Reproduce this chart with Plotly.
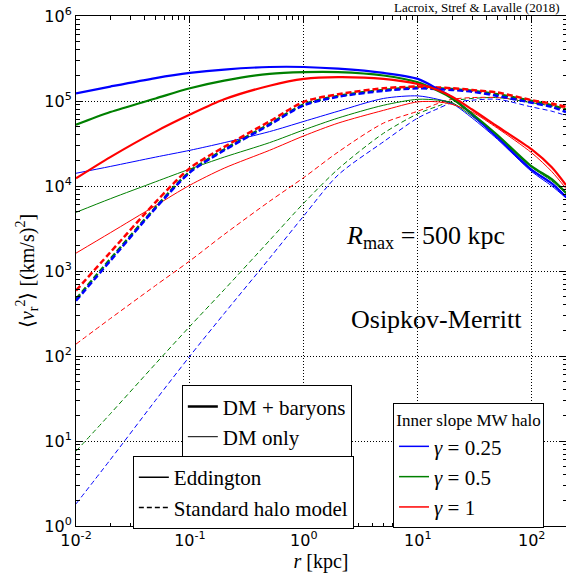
import numpy as np
import plotly.graph_objects as go

# radius grid (kpc)
r_kpc = [0.01, 0.02, 0.05, 0.1, 0.2, 0.5, 1, 2, 5, 10, 15, 20, 30, 50, 100, 150, 200]

# log10 <v_r^2>
# Eddington, DM + baryons (thick solid)
edd_bar_g025 = [5.09, 5.17, 5.27, 5.33, 5.37, 5.40, 5.40, 5.38, 5.33, 5.26, 5.14, 5.04, 4.84, 4.57, 4.19, 4.03, 3.87]
edd_bar_g05 = [4.72, 4.87, 5.03, 5.15, 5.24, 5.32, 5.34, 5.34, 5.30, 5.22, 5.12, 5.03, 4.85, 4.60, 4.23, 4.08, 3.92]
edd_bar_g1 = [4.09, 4.34, 4.64, 4.84, 5.02, 5.18, 5.26, 5.28, 5.26, 5.20, 5.13, 5.05, 4.90, 4.70, 4.43, 4.22, 4.01]
# Eddington, DM only (thin solid)
edd_dm_g025 = [4.15, 4.23, 4.34, 4.42, 4.51, 4.64, 4.76, 4.88, 5.03, 5.06, 5.02, 4.97, 4.80, 4.55, 4.17, 4.00, 3.86]
edd_dm_g05 = [3.69, 3.85, 4.05, 4.20, 4.34, 4.51, 4.66, 4.80, 4.95, 5.02, 5.01, 4.98, 4.82, 4.58, 4.22, 4.06, 3.91]
edd_dm_g1 = [3.21, 3.45, 3.77, 4.01, 4.21, 4.42, 4.59, 4.74, 4.89, 4.99, 4.99, 4.96, 4.87, 4.68, 4.39, 4.17, 3.97]
# Standard halo model, DM + baryons (thick dashed)
shm_bar_g025 = [2.65, 3.12, 3.74, 4.16, 4.42, 4.72, 4.95, 5.05, 5.12, 5.15, 5.14, 5.13, 5.11, 5.06, 4.98, 4.93, 4.87]
shm_bar_g05 = [2.67, 3.14, 3.75, 4.17, 4.43, 4.73, 4.96, 5.06, 5.13, 5.16, 5.15, 5.14, 5.12, 5.08, 5.00, 4.95, 4.90]
shm_bar_g1 = [2.77, 3.22, 3.81, 4.21, 4.46, 4.76, 4.99, 5.08, 5.15, 5.17, 5.16, 5.15, 5.13, 5.10, 5.01, 4.97, 4.93]
# Standard halo model, DM only (thin dashed)
shm_dm_g025 = [0.26, 0.78, 1.48, 2.00, 2.50, 3.15, 3.65, 4.13, 4.52, 4.80, 4.91, 4.98, 5.01, 5.02, 4.93, 4.88, 4.83]
shm_dm_g05 = [0.88, 1.32, 1.91, 2.35, 2.78, 3.36, 3.80, 4.20, 4.62, 4.85, 4.94, 5.00, 5.03, 5.04, 4.98, 4.94, 4.90]
shm_dm_g1 = [2.14, 2.44, 2.83, 3.12, 3.43, 3.82, 4.10, 4.40, 4.74, 4.88, 4.97, 5.02, 5.04, 5.04, 4.99, 4.95, 4.91]

gamma_labels = ["<i>γ</i> = 0.25", "<i>γ</i> = 0.5", "<i>γ</i> = 1"]
colors = ["#0000ff", "#008000", "#ff0000"]
x_tick_vals = [0.01, 0.1, 1, 10, 100]
x_tick_text = ["10<sup>-2</sup>", "10<sup>-1</sup>", "10<sup>0</sup>", "10<sup>1</sup>", "10<sup>2</sup>"]
y_tick_vals = [1, 10, 100, 1e3, 1e4, 1e5, 1e6]
y_tick_text = ["10<sup>0</sup>", "10<sup>1</sup>", "10<sup>2</sup>", "10<sup>3</sup>",
               "10<sup>4</sup>", "10<sup>5</sup>", "10<sup>6</sup>"]

SERIF = "Liberation Serif"
SANS = "DejaVu Sans"

fig = go.Figure()

groups = [
    ([shm_dm_g025, shm_dm_g05, shm_dm_g1], 1.0, "5px,3px"),
    ([edd_dm_g025, edd_dm_g05, edd_dm_g1], 1.0, "solid"),
    ([shm_bar_g05, shm_bar_g025, shm_bar_g1], 2.5, "6px,3px"),
    ([edd_bar_g025, edd_bar_g05, edd_bar_g1], 2.2, "solid"),
]
group_colors = [colors, colors, [colors[1], colors[0], colors[2]], colors]
for (series, w, dash), cols in zip(groups, group_colors):
    for logv, c in zip(series, cols):
        fig.add_trace(go.Scatter(
            x=r_kpc, y=10 ** np.array(logv), mode="lines",
            line=dict(color=c, width=w, dash=dash, shape="spline", smoothing=0.8),
            showlegend=False, hoverinfo="skip"))

# legend 1 : DM + baryons / DM only
fig.add_trace(go.Scatter(x=[None], y=[None], mode="lines", name="DM + baryons",
                         line=dict(color="black", width=2.5), legend="legend"))
fig.add_trace(go.Scatter(x=[None], y=[None], mode="lines", name="DM only",
                         line=dict(color="black", width=1), legend="legend"))
# legend 2 : Eddington / SHM
fig.add_trace(go.Scatter(x=[None], y=[None], mode="lines", name="Eddington",
                         line=dict(color="black", width=1.5), legend="legend2"))
fig.add_trace(go.Scatter(x=[None], y=[None], mode="lines", name="Standard halo model",
                         line=dict(color="black", width=1.5, dash="5px,3px"), legend="legend2"))
# legend 3 : gamma
for lab, c in zip(gamma_labels, colors):
    fig.add_trace(go.Scatter(x=[None], y=[None], mode="lines", name=lab,
                             line=dict(color=c, width=1.5), legend="legend3"))

leg_common = dict(bgcolor="white", bordercolor="black", borderwidth=1,
                  xanchor="left", yanchor="top", itemwidth=30,
                  font=dict(family=SERIF, size=21, color="black"), tracegroupgap=0)

axis_common = dict(type="log", ticks="inside", ticklen=7, tickwidth=1, tickcolor="black",
                   showline=True, linecolor="black", linewidth=1, mirror="allticks",
                   showgrid=True, gridcolor="black", gridwidth=1, griddash="1px,2px",
                   zeroline=False, automargin=False,
                   tickfont=dict(family=SANS, size=16, color="black"))

minor_x = [m * 10.0 ** e for e in range(-2, 3) for m in range(2, 10) if m * 10.0 ** e <= 200]
minor_y = [m * 10.0 ** e for e in range(0, 6) for m in range(2, 10)]

fig.update_layout(
    width=566, height=574,
    margin=dict(l=76, r=0, t=16, b=48),
    plot_bgcolor="white", paper_bgcolor="white",
    xaxis=dict(axis_common, range=[-2, np.log10(200)],
               tickvals=x_tick_vals, ticktext=x_tick_text,
               minor=dict(tickvals=minor_x, ticks="inside", ticklen=3.5, tickcolor="black", showgrid=False),
               title=dict(text="<i>r</i> [kpc]", font=dict(family=SERIF, size=20, color="black"), standoff=2)),
    yaxis=dict(axis_common, range=[0, 6],
               tickvals=y_tick_vals, ticktext=y_tick_text,
               minor=dict(tickvals=minor_y, ticks="inside", ticklen=3.5, tickcolor="black", showgrid=False),
               title=dict(text="⟨<i>v</i><sub>r</sub><sup>2</sup>⟩ [(km/s)<sup>2</sup>]",
                          font=dict(family=SERIF, size=20, color="black"), standoff=4)),
    legend=dict(leg_common, x=0.216, y=0.276),
    legend2=dict(leg_common, x=0.116, y=0.137),
    legend3=dict(leg_common, x=0.647, y=0.241,
                 title=dict(text="Inner slope MW halo", side="top center",
                            font=dict(family=SERIF, size=17, color="black"))),
    annotations=[
        dict(text="<i>R</i><sub>max</sub> = 500 kpc", x=0.713, y=0.566, xref="paper", yref="paper",
             xanchor="center", yanchor="middle",
             showarrow=False, font=dict(family=SERIF, size=26, color="black")),
        dict(text="Osipkov-Merritt", x=0.735, y=0.405, xref="paper", yref="paper",
             xanchor="center", yanchor="middle",
             showarrow=False, font=dict(family=SERIF, size=26, color="black")),
        dict(text="Lacroix, Stref & Lavalle (2018)", x=1, y=1, xref="paper", yref="paper",
             xanchor="right", yanchor="middle", yshift=9, xshift=-4, showarrow=False,
             font=dict(family=SERIF, size=13, color="black")),
    ],
)

fig.write_html("out.html", config={"displayModeBar": False},
               post_script="document.body.style.margin='0';")
